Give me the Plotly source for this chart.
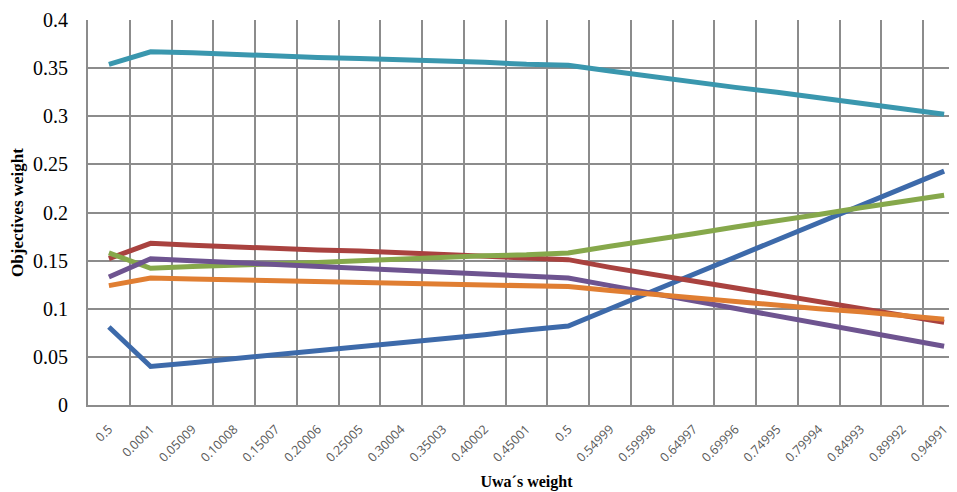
import plotly.graph_objects as go

x_labels = ["0.5", "0.0001", "0.05009", "0.10008", "0.15007", "0.20006", "0.25005",
            "0.30004", "0.35003", "0.40002", "0.45001", "0.5", "0.54999", "0.59998",
            "0.64997", "0.69996", "0.74995", "0.79994", "0.84993", "0.89992", "0.94991"]

teal = [0.354, 0.367, 0.366, 0.364, 0.363, 0.361, 0.360, 0.359, 0.357, 0.356, 0.354,
        0.353, 0.347, 0.341, 0.336, 0.330, 0.325, 0.319, 0.313, 0.308, 0.302]
blue = [0.081, 0.040, 0.044, 0.048, 0.053, 0.057, 0.061, 0.065, 0.069, 0.073, 0.078,
        0.082, 0.100, 0.118, 0.136, 0.154, 0.172, 0.190, 0.208, 0.225, 0.243]
green = [0.158, 0.142, 0.144, 0.145, 0.147, 0.148, 0.150, 0.152, 0.153, 0.155, 0.156,
         0.158, 0.165, 0.171, 0.178, 0.185, 0.191, 0.198, 0.205, 0.211, 0.218]
red = [0.152, 0.168, 0.166, 0.164, 0.163, 0.161, 0.160, 0.158, 0.156, 0.155, 0.153,
       0.151, 0.143, 0.136, 0.129, 0.122, 0.115, 0.107, 0.100, 0.093, 0.086]
purple = [0.133, 0.152, 0.150, 0.148, 0.146, 0.144, 0.142, 0.140, 0.138, 0.136, 0.134,
          0.132, 0.124, 0.116, 0.108, 0.100, 0.093, 0.085, 0.077, 0.069, 0.061]
orange = [0.124, 0.132, 0.131, 0.130, 0.129, 0.128, 0.128, 0.127, 0.126, 0.125, 0.124,
          0.123, 0.119, 0.115, 0.112, 0.108, 0.104, 0.100, 0.097, 0.093, 0.089]

series = [
    ("Series1", blue, "#3D6AAA"),
    ("Series2", red, "#A9423F"),
    ("Series3", green, "#86A84B"),
    ("Series4", purple, "#6E5490"),
    ("Series5", teal, "#3A97AE"),
    ("Series6", orange, "#E07E32"),
]

xs = list(range(len(x_labels)))

fig = go.Figure()
for name, vals, col in series:
    fig.add_trace(go.Scatter(x=xs, y=vals, mode="lines", name=name,
                             line=dict(color=col, width=5), showlegend=False))

grid_col = "#8C8C8C"
fig.update_layout(
    width=957, height=492,
    margin=dict(l=80, r=0, t=12, b=95),
    paper_bgcolor="white", plot_bgcolor="white",
    showlegend=False,
    xaxis=dict(
        range=[-0.5, 20.5],
        automargin=False,
        tickmode="array", tickvals=xs, ticktext=x_labels,
        tickangle=-45,
        tickfont=dict(family="Open Sans", size=12.5, color="#595959"),
        showgrid=False, zeroline=False,
        showline=True, linecolor=grid_col, linewidth=2,
        ticks="outside", ticklen=10, tickcolor="rgba(0,0,0,0)",
        minor=dict(tickmode="linear", tick0=-0.5, dtick=1, showgrid=True,
                   gridcolor=grid_col, gridwidth=2),
        title=dict(text="<b>Uwa´s weight</b>", standoff=11,
                   font=dict(family="Liberation Serif", size=16, color="black")),
    ),
    yaxis=dict(
        range=[0, 0.4], tickmode="linear", tick0=0, dtick=0.05,
        automargin=False,
        tickfont=dict(family="Liberation Serif", size=20, color="black"),
        showgrid=True, gridcolor=grid_col, gridwidth=2,
        zeroline=False, showline=True, linecolor=grid_col, linewidth=2,
        ticks="outside", ticklen=14, tickcolor="rgba(0,0,0,0)",
        title=dict(text="<b>Objectives weight</b>", standoff=8,
                   font=dict(family="Liberation Serif", size=17, color="black")),
    ),
)

fig.write_html("out.html")
